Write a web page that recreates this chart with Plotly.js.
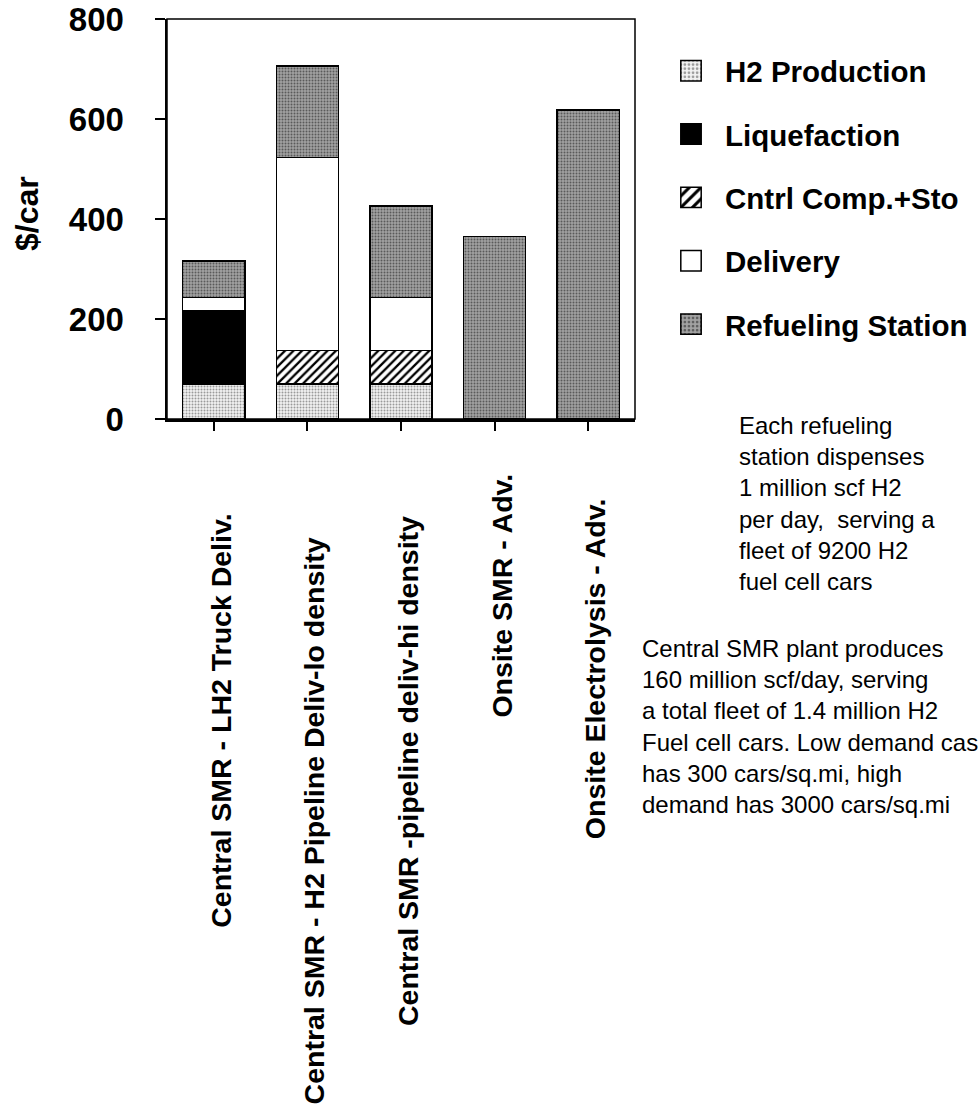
<!DOCTYPE html>
<html>
<head>
<meta charset="utf-8">
<script src="https://cdn.plot.ly/plotly-3.0.1.min.js"></script>
<style>
  html, body { margin: 0; padding: 0; background: #ffffff; }
  #chart { width: 978px; height: 1109px; }
</style>
</head>
<body>
<div id="chart"></div>
<script>
// ---- Data ----
var categories = [
  "Central SMR - LH2 Truck Deliv.",
  "Central SMR - H2 Pipeline Deliv-lo density",
  "Central SMR -pipeline deliv-hi density",
  "Onsite SMR - Adv.",
  "Onsite Electrolysis - Adv."
];
var seriesNames = ["H2 Production", "Liquefaction", "Cntrl Comp.+Sto", "Delivery", "Refueling Station"];
var h2Production     = [70, 70, 70, null, null];
var liquefaction     = [146, null, null, null, null];
var cntrlCompSto     = [null, 67, 67, null, null];
var delivery         = [27, 386, 106, null, null];
var refuelingStation = [73, 183, 183, 365, 618];
var yTicks = [0, 200, 400, 600, 800];
var yTitle = "$/car";
var note1 = "Each refueling<br>station dispenses<br>1 million scf H2<br>per day,  serving a<br>fleet of 9200 H2<br>fuel cell cars";
var note2 = "Central SMR plant produces<br>160 million scf/day, serving<br>a total fleet of 1.4 million H2<br>Fuel cell cars. Low demand case<br>has 300 cars/sq.mi, high<br>demand has 3000 cars/sq.mi";

// ---- Layout constants (pixels) ----
var W = 978, H = 1109;
var plotL = 167, plotR = 635, plotT = 19, plotB = 419;
var pw = plotR - plotL, ph = plotB - plotT;
var FONT = "Arial, 'Liberation Sans', sans-serif";
var labelCenterY = [721, 821, 771, 596, 669];

var outline = { color: "#000000", width: 1.5 };
var styles = [
  { color: "#e6e6e6", pattern: { shape: ".", bgcolor: "#f2f2f2", fgcolor: "#9a9a9a", size: 3, solidity: 0.35 } },
  { color: "#000000" },
  { color: "#ffffff", pattern: { shape: "/", bgcolor: "#ffffff", fgcolor: "#000000", size: 6, solidity: 0.38 } },
  { color: "#ffffff" },
  { color: "#8c8c8c", pattern: { shape: ".", bgcolor: "#a2a2a2", fgcolor: "#5a5a5a", size: 3, solidity: 0.35 } }
];
var values = [h2Production, liquefaction, cntrlCompSto, delivery, refuelingStation];

var traces = values.map(function (v, i) {
  var m = { color: styles[i].color, line: outline };
  if (styles[i].pattern) m.pattern = styles[i].pattern;
  return {
    type: "bar",
    name: seriesNames[i],
    x: categories,
    y: v,
    marker: m,
    legendgroup: "g" + i
  };
});

var annotations = [];
categories.forEach(function (c, i) {
  annotations.push({
    xref: "x", yref: "paper", x: c, y: 0,
    xanchor: "center", yanchor: "middle",
    xshift: 7, yshift: -(labelCenterY[i] - plotB),
    text: "<b>" + c + "</b>", textangle: -90, showarrow: false,
    font: { family: FONT, size: 28.5, color: "#000" }
  });
});
annotations.push({
  xref: "paper", yref: "paper", x: 0, y: (plotB - 214) / ph,
  xanchor: "center", yanchor: "middle", xshift: 27 - plotL,
  text: "<b>" + yTitle + "</b>", textangle: -90, showarrow: false,
  font: { family: FONT, size: 32, color: "#000" }
});
annotations.push({
  xref: "paper", yref: "paper", x: 0, y: 1,
  xanchor: "left", yanchor: "top", align: "left",
  xshift: 737 - plotL, yshift: -(410 - plotT),
  text: note1, showarrow: false,
  font: { family: FONT, size: 24, color: "#000" }
});
annotations.push({
  xref: "paper", yref: "paper", x: 0, y: 1,
  xanchor: "left", yanchor: "top", align: "left",
  xshift: 640 - plotL, yshift: -(633 - plotT),
  text: note2, showarrow: false,
  font: { family: FONT, size: 24, color: "#000" }
});

var layout = {
  width: W, height: H,
  margin: { l: plotL, r: W - plotR, t: plotT, b: H - plotB, autoexpand: false },
  paper_bgcolor: "#ffffff", plot_bgcolor: "#ffffff",
  barmode: "stack", bargap: 0.335,
  font: { family: FONT, color: "#000" },
  showlegend: true,
  legend: {
    x: (657 - plotL) / pw, y: 1 - (45 - plotT) / ph,
    xanchor: "left", yanchor: "top",
    traceorder: "grouped", tracegroupgap: 22, itemwidth: 58,
    bgcolor: "rgba(0,0,0,0)", borderwidth: 0,
    font: { family: FONT, size: 29.5, color: "#000", weight: "bold" }
  },
  xaxis: {
    type: "category", showticklabels: false,
    ticks: "outside", ticklen: 9, tickwidth: 2, tickcolor: "#000",
    showline: true, linewidth: 2.5, linecolor: "#000",
    showgrid: false, zeroline: false, fixedrange: true
  },
  yaxis: {
    range: [0, 800], tickvals: yTicks, ticktext: yTicks.map(String),
    ticks: "outside", ticklen: 10, tickwidth: 2, tickcolor: "#000",
    ticklabelstandoff: 24,
    tickfont: { family: FONT, size: 33, color: "#000", weight: "bold" },
    showline: true, linewidth: 2.5, linecolor: "#000",
    showgrid: false, zeroline: false, fixedrange: true
  },
  shapes: [{
    type: "rect", xref: "paper", yref: "paper", x0: 0, x1: 1, y0: 0, y1: 1,
    line: { color: "#000", width: 1.5 }, layer: "above"
  }],
  annotations: annotations
};

Plotly.newPlot("chart", traces, layout, { staticPlot: true, displayModeBar: false }).then(function (gd) {
  gd.querySelectorAll(".legend .legendpoints path").forEach(function (p) {
    var t = p.getAttribute("transform") || "";
    p.setAttribute("transform", t + " scale(1.7)");
    p.setAttribute("vector-effect", "non-scaling-stroke");
  });
});
</script>
</body>
</html>
